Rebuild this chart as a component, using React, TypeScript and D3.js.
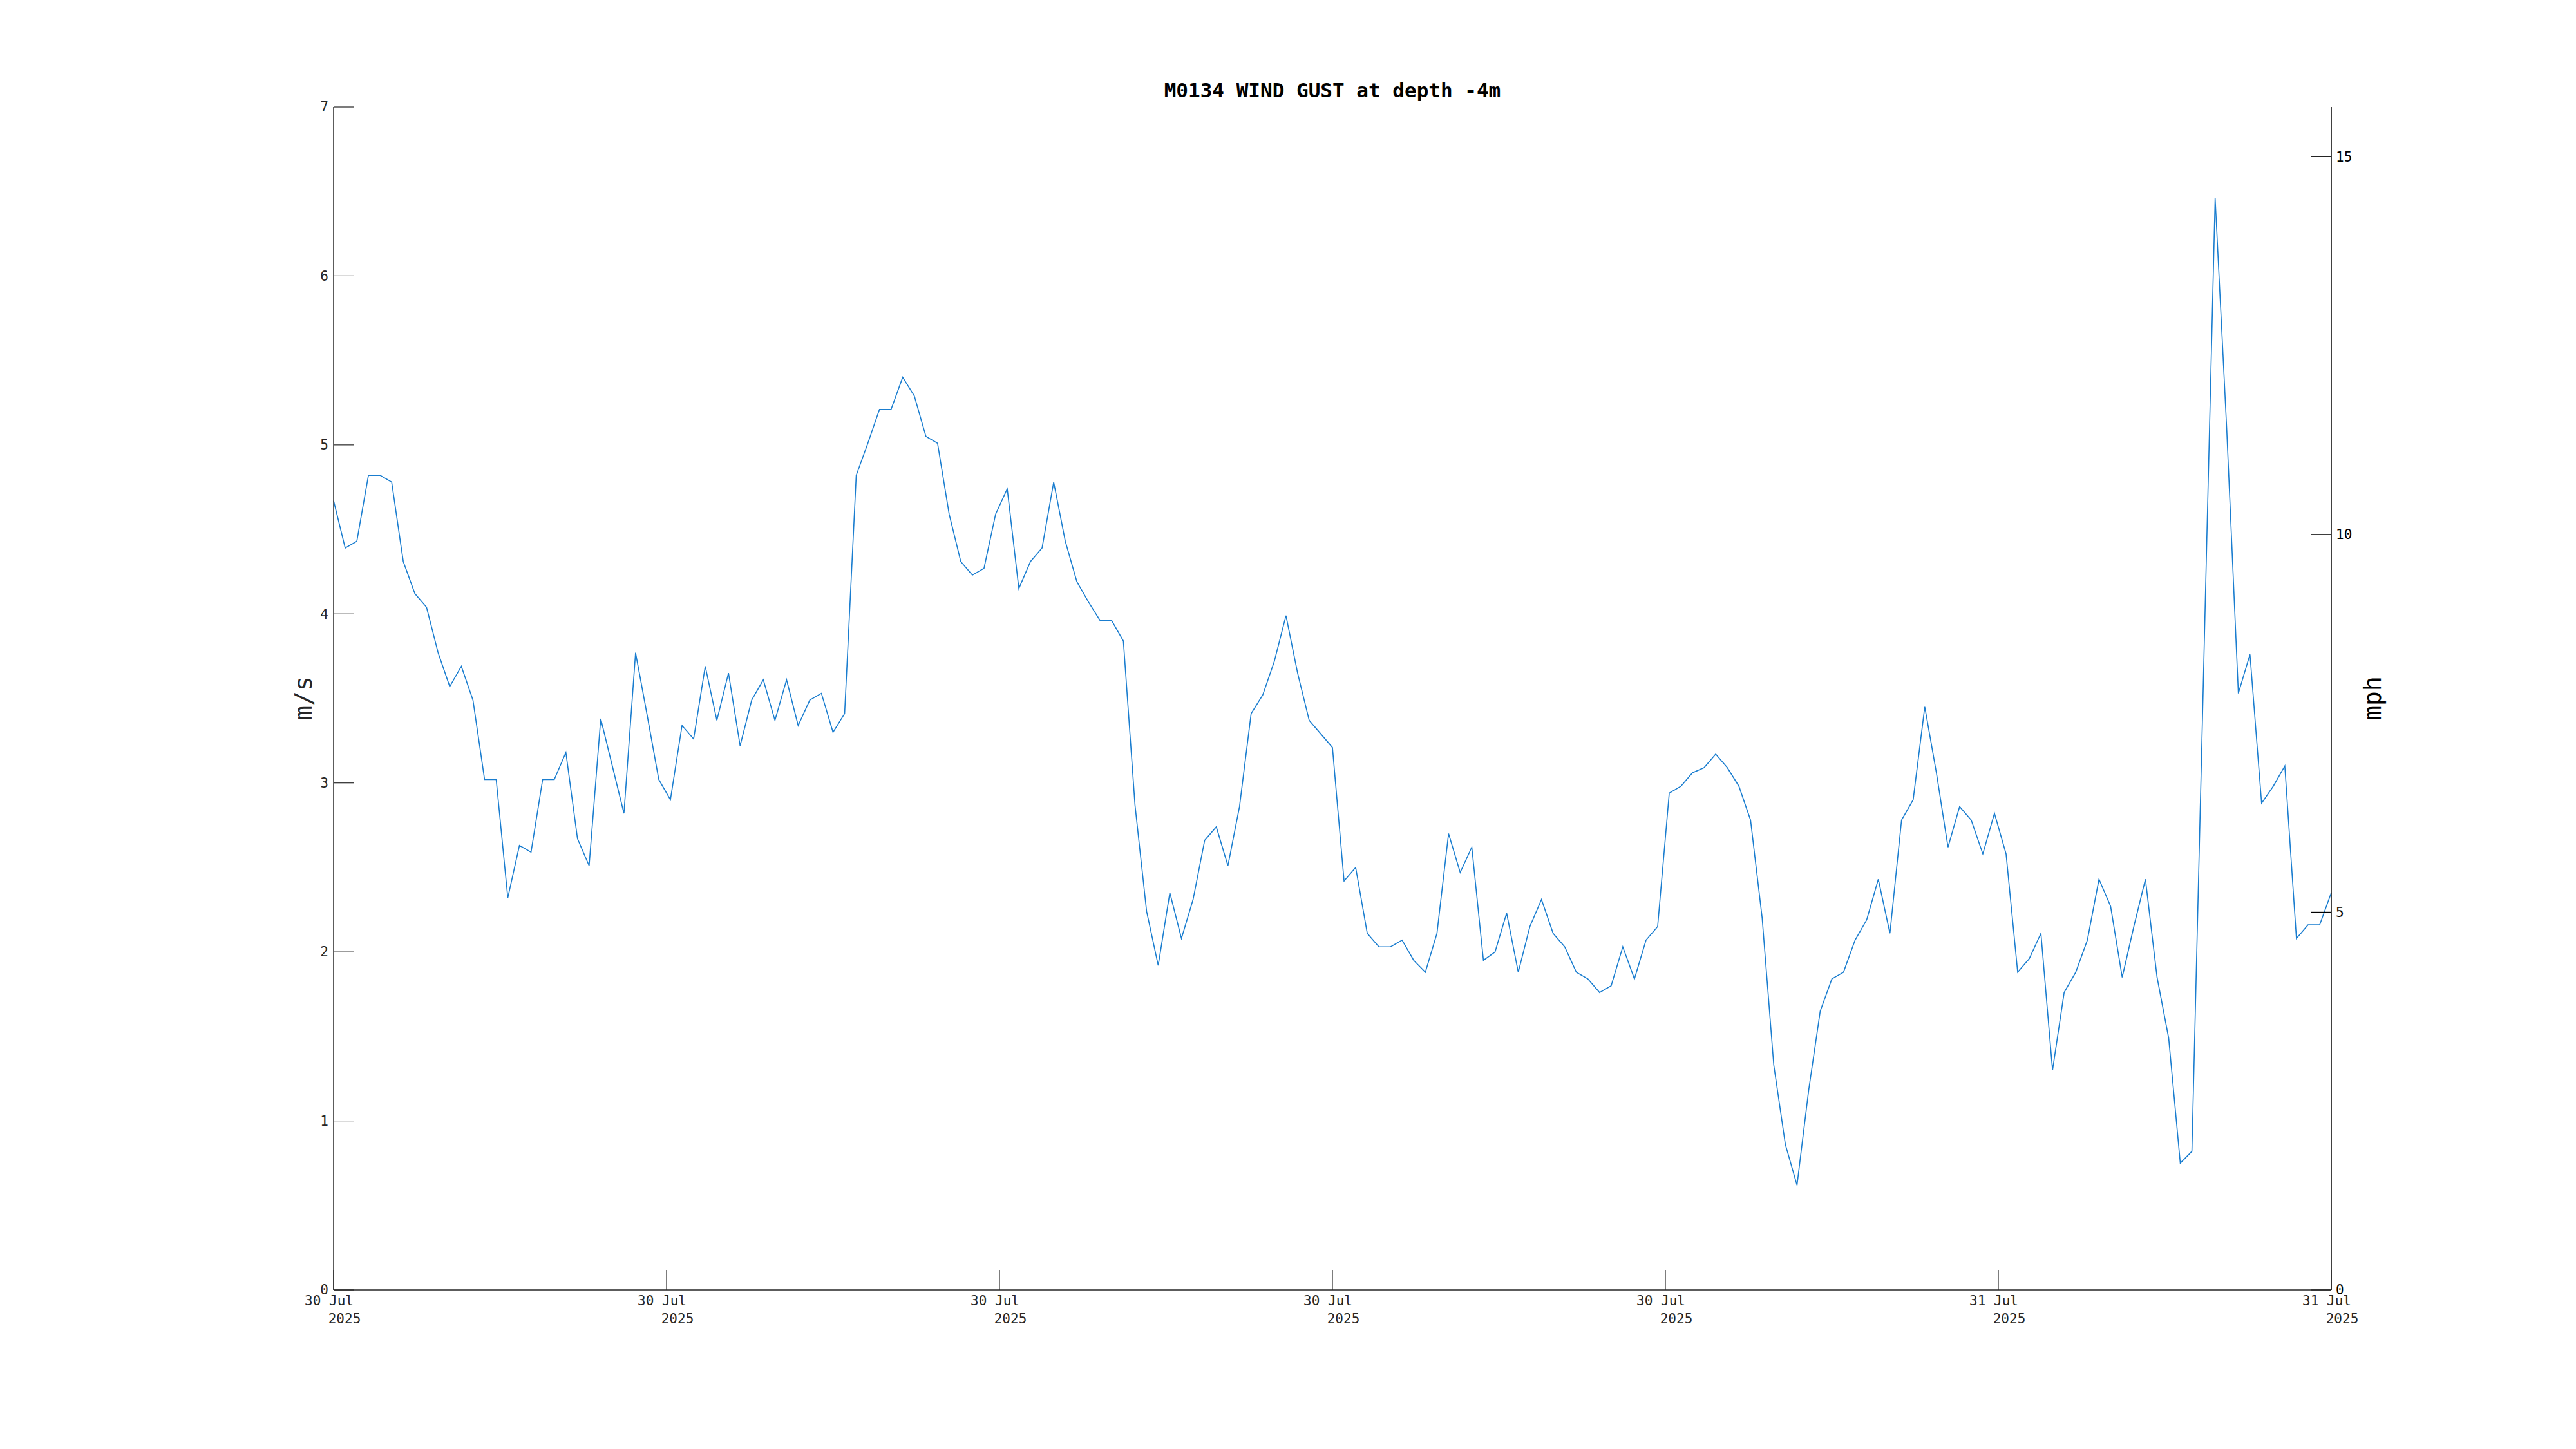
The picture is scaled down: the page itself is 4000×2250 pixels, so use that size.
import React from "react";
import * as d3 from "d3";

// wind gust, m/s, one reading every 10 minutes
const startTime = new Date(2025, 6, 30, 0, 20);
const stepMinutes = 10;
const gust = [
  4.67, 4.39, 4.43, 4.82, 4.82, 4.78, 4.31, 4.12, 4.04, 3.77,
  3.57, 3.69, 3.49, 3.02, 3.02, 2.32, 2.63, 2.59, 3.02, 3.02,
  3.18, 2.67, 2.51, 3.38, 3.1, 2.82, 3.77, 3.4, 3.02, 2.9,
  3.34, 3.26, 3.69, 3.37, 3.65, 3.22, 3.49, 3.61, 3.37, 3.61,
  3.34, 3.49, 3.53, 3.3, 3.41, 4.82, 5.01, 5.21, 5.21, 5.4,
  5.29, 5.05, 5.01, 4.59, 4.31, 4.23, 4.27, 4.59, 4.74, 4.15,
  4.31, 4.39, 4.78, 4.43, 4.19, 4.07, 3.96, 3.96, 3.84, 2.87,
  2.24, 1.92, 2.35, 2.08, 2.31, 2.66, 2.74, 2.51, 2.86, 3.41,
  3.52, 3.72, 3.99, 3.65, 3.37, 3.29, 3.21, 2.42, 2.5, 2.11,
  2.03, 2.03, 2.07, 1.95, 1.88, 2.11, 2.7, 2.47, 2.62, 1.95,
  2.0, 2.23, 1.88, 2.15, 2.31, 2.11, 2.03, 1.88, 1.84, 1.76,
  1.8, 2.03, 1.84, 2.07, 2.15, 2.94, 2.98, 3.06, 3.09, 3.17,
  3.09, 2.98, 2.78, 2.2, 1.33, 0.86, 0.62, 1.18, 1.65, 1.84,
  1.88, 2.07, 2.19, 2.43, 2.11, 2.78, 2.9, 3.45, 3.06, 2.62,
  2.86, 2.78, 2.58, 2.82, 2.58, 1.88, 1.96, 2.11, 1.3, 1.76,
  1.88, 2.07, 2.43, 2.27, 1.85, 2.15, 2.43, 1.85, 1.49, 0.75,
  0.82, 3.64, 6.46, 5.09, 3.53, 3.76, 2.88, 2.98, 3.1, 2.08,
  2.16, 2.16, 2.35,
];
const leftTicks = [0, 1, 2, 3, 4, 5, 6, 7];
const rightTicks = [0, 5, 10, 15];
const MS_TO_MPH = 2.23694;

const W = 4000;
const H = 2250;
const left = 518;
const right = 3620;
const top = 166;
const bottom = 2003;
const tickLen = 31;
const mono = "'DejaVu Sans Mono', monospace";

export default function App() {
  const times = gust.map(
    (_, i) => new Date(startTime.getTime() + i * stepMinutes * 60000)
  );
  const x = d3
    .scaleTime()
    .domain([times[0], times[times.length - 1]])
    .range([left, right]);
  const y = d3.scaleLinear().domain([0, 7]).range([bottom, top]);
  const yMph = d3.scaleLinear().domain([0, 7 * MS_TO_MPH]).range([bottom, top]);

  // 7 evenly spaced date ticks across the data span
  const [t0, t1] = x.domain();
  const xTicks = d3
    .range(7)
    .map((i) => new Date(+t0 + ((+t1 - +t0) * i) / 6));
  const fmtDay = d3.timeFormat("%d %b");
  const fmtYear = d3.timeFormat("%Y");

  const line = d3
    .line<number>()
    .x((_, i) => x(times[i]))
    .y((d) => y(d));

  return (
    <svg
      width={W}
      height={H}
      style={{ position: "absolute", left: 0, top: 0, background: "#fff" }}
    >
      <text
        x={(left + right) / 2}
        y={151}
        textAnchor="middle"
        fontFamily={mono}
        fontWeight="bold"
        fontSize={31}
      >
        M0134 WIND GUST at depth -4m
      </text>

      {/* data */}
      <path d={line(gust) || ""} fill="none" stroke="#1a7dcf" strokeWidth={1.6} />

      {/* left axis */}
      <line x1={left} x2={left} y1={top} y2={bottom} stroke="#262626" strokeWidth={1.5} />
      {leftTicks.map((t) => (
        <g key={"l" + t}>
          <line x1={left} x2={left + tickLen} y1={y(t)} y2={y(t)} stroke="#262626" strokeWidth={1.2} />
          <text
            x={left - 8}
            y={y(t)}
            dy="0.35em"
            textAnchor="end"
            fontFamily={mono}
            fontSize={21}
            fill="#262626"
          >
            {t}
          </text>
        </g>
      ))}
      <text
        transform={`translate(484,${(top + bottom) / 2}) rotate(-90)`}
        textAnchor="middle"
        fontFamily={mono}
        fontSize={38}
        fill="#262626"
      >
        m/s
      </text>

      {/* right axis */}
      <line x1={right} x2={right} y1={top} y2={bottom} stroke="#000" strokeWidth={1.5} />
      {rightTicks.map((t) => (
        <g key={"r" + t}>
          <line x1={right - tickLen} x2={right} y1={yMph(t)} y2={yMph(t)} stroke="#000" strokeWidth={1.2} />
          <text
            x={right + 7}
            y={yMph(t)}
            dy="0.35em"
            fontFamily={mono}
            fontSize={21}
            fill="#000"
          >
            {t}
          </text>
        </g>
      ))}
      <text
        transform={`translate(3697,${(top + bottom) / 2}) rotate(-90)`}
        textAnchor="middle"
        fontFamily={mono}
        fontSize={38}
        fill="#000"
      >
        mph
      </text>

      {/* bottom axis */}
      <line x1={left} x2={right} y1={bottom} y2={bottom} stroke="#262626" strokeWidth={1.5} />
      {xTicks.map((t, i) => (
        <g key={"x" + i}>
          <line x1={x(t)} x2={x(t)} y1={bottom} y2={bottom - tickLen} stroke="#262626" strokeWidth={1.2} />
          <text x={x(t) - 7} y={2027} textAnchor="middle" fontFamily={mono} fontSize={21} fill="#262626">
            {fmtDay(t)}
          </text>
          <text x={x(t) + 17} y={2055} textAnchor="middle" fontFamily={mono} fontSize={21} fill="#262626">
            {fmtYear(t)}
          </text>
        </g>
      ))}
    </svg>
  );
}
